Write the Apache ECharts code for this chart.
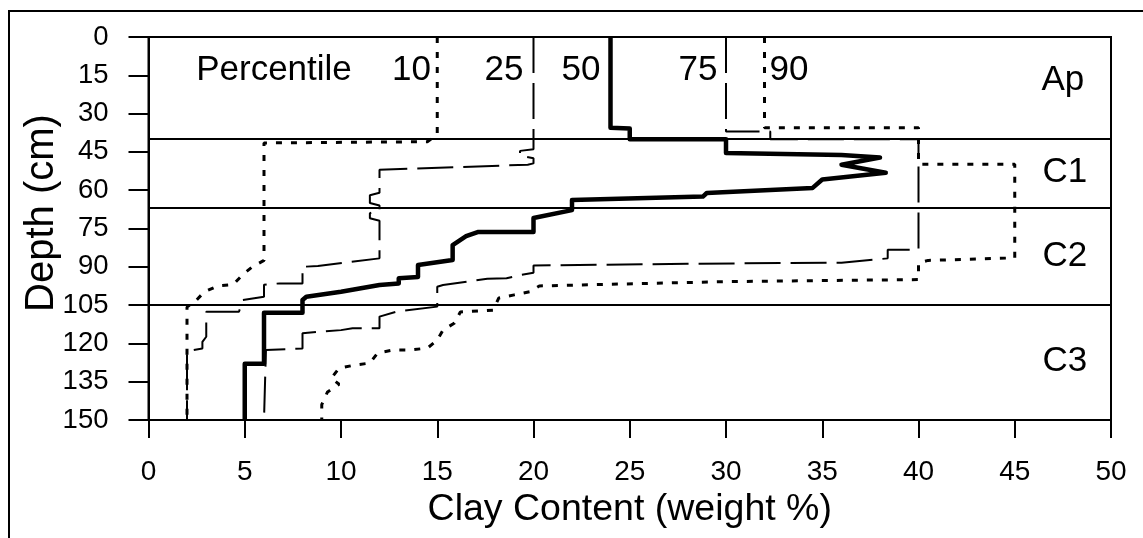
<!DOCTYPE html>
<html>
<head>
<meta charset="utf-8">
<script src="https://cdn.jsdelivr.net/npm/echarts@6/dist/echarts.min.js"></script>
<style>
html,body{margin:0;padding:0;background:#fff;}
#chart{width:1143px;height:538px;}
</style>
</head>
<body>
<div id="chart"></div>
<script>
// ---- data: [clay %, depth cm] ----
const p10 = [[15,0],[15,38],[14.5,41],[6,41.5],[6,87.5],[5.4,90],[4.9,93],[4.4,97],[3.6,97.5],[2.9,99.8],[2.5,103],[2,105.8],[2,150]];
const p25 = [[20,0],[20,44],[19.3,44.6],[19.3,46.5],[20,47.5],[20,49.5],[19.7,50],[12,52],[12,61],[11.5,62],[11.5,65],[12,66],[12,68],[11.5,69],[11.5,71],[12,72],[12,86.7],[8.8,89.7],[8,90],[8,96.5],[6.8,96.5],[6,97],[6,101.7],[4.9,103],[4.7,107.6],[3,107.6],[3,117.4],[2.8,119.4],[2.8,122],[2,123],[2,150]];
const p50 = [[24,0],[24,35.5],[25,35.8],[25,40],[30,40],[30,45.4],[36,46.2],[38,47.2],[36,50],[38.3,53.2],[35,55.8],[34.5,59.1],[29,61.1],[28.8,62.5],[22,63.8],[22,67.8],[20,70.9],[20,76.4],[17.1,76.4],[16.5,78],[15.8,81.5],[15.8,87.3],[14,89.3],[14,94],[13,94.5],[13,96.5],[12,97.1],[10,99.8],[8.2,101.7],[8,103],[8,108],[6,108],[6,128],[5,128],[5,150]];
const p75 = [[30,0],[30,37],[32.3,37],[32.3,40],[40,40],[40,83.3],[38.4,83.3],[38.4,86.7],[36,88.4],[28,88.8],[20,89.5],[20,92.3],[19.3,93.2],[18.6,94.5],[17.6,94.7],[15.3,97.1],[15,97.8],[15,105.6],[12.9,107.5],[12,109.5],[12,114.1],[10.6,114.1],[10,114.8],[8,116],[8,122],[6.1,122.6],[6,150]];
const p90 = [[32,0],[32,35.5],[40,35.5],[40,49.8],[45,49.8],[45,86.5],[40.5,87.5],[40,88.5],[40,95],[30,95.8],[20.3,97.5],[19.8,99.8],[19,101],[18.2,102.2],[17.9,107],[16.2,107.7],[15.9,112],[15.3,114.8],[15,118.7],[14.5,121.8],[13.6,122.6],[12.7,122.6],[11.9,123.8],[11.5,127.7],[10.7,128.5],[9.9,129.7],[9.5,133.6],[9.9,136],[9.3,139],[9,144],[9,150]];

const horizonDepths = [40, 67, 105];
const horizonNames = ['Ap','C1','C2','C3'];
const horizonLabelX = [47.5, 47.6, 47.6, 47.6];
const horizonLabelY = [17, 53, 86, 127];

const pctLabels = ['Percentile','10','25','50','75','90'];
const pctLabelX = [6.52, 13.66, 18.47, 22.47, 28.55, 33.27];
const pctLabelY = [13, 13, 13, 13, 13, 13];

const xTickInterval = 5;
const yTickInterval = 15;

const FONT = '"Liberation Sans", Arial, sans-serif';

const chart = echarts.init(document.getElementById('chart'), null, {renderer:'canvas'});

const dotted = {color:'#000', width:3, type:[6,9], cap:'butt'};
const dashed = {color:'#000', width:2, type:[36,10], cap:'butt'};

function lineSeries(name, data, style, z){
  return {name, type:'line', data, showSymbol:false, symbol:'none', lineStyle:style, z, silent:true, animation:false};
}

const textData = pctLabels.map((t,i)=>({value:[pctLabelX[i], pctLabelY[i]], name:t}))
  .concat(horizonNames.map((t,i)=>({value:[horizonLabelX[i], horizonLabelY[i]], name:t})));

chart.setOption({
  backgroundColor:'#fff',
  animation:false,
  grid:{left:148.5, right:32, top:37, bottom:118, show:true, borderColor:'#000', borderWidth:2, backgroundColor:'transparent'},
  xAxis:{
    type:'value', min:0, max:50, interval:xTickInterval,
    axisLine:{show:true, onZero:false, lineStyle:{color:'#000', width:2}},
    axisTick:{show:true, inside:false, length:18, lineStyle:{color:'#000', width:2}},
    axisLabel:{color:'#000', fontSize:28, fontFamily:FONT, margin:38},
    splitLine:{show:false},
    name:'Clay Content (weight %)', nameLocation:'middle', nameGap:70,
    nameTextStyle:{color:'#000', fontSize:37.5, fontFamily:FONT}
  },
  yAxis:{
    type:'value', min:0, max:150, interval:yTickInterval, inverse:true,
    axisLine:{show:true, onZero:false, lineStyle:{color:'#000', width:2}},
    axisTick:{show:true, inside:false, length:20, lineStyle:{color:'#000', width:2}},
    axisLabel:{color:'#000', fontSize:27.5, fontFamily:FONT, margin:40},
    splitLine:{show:false}
  },
  graphic:[
    {type:'rect', shape:{x:9, y:11, width:1300, height:700}, style:{fill:'none', stroke:'#000', lineWidth:2}, z:-1, silent:true},
    {type:'text', x:42, y:213, rotation:Math.PI/2, style:{text:'Depth (cm)', font:'40px "Liberation Sans", Arial, sans-serif', fill:'#000', textAlign:'center', textVerticalAlign:'middle'}, silent:true}
  ],
  series:[
    lineSeries('p10', p10, dotted, 3),
    lineSeries('p90', p90, dotted, 3),
    lineSeries('p25', p25, dashed, 4),
    lineSeries('p75', p75, dashed, 4),
    lineSeries('p50', p50, {color:'#000', width:4.5, type:'solid', join:'round'}, 6),
    {
      name:'labels', type:'scatter', data:textData, symbolSize:0,
      itemStyle:{color:'#000', opacity:1}, silent:true, z:8,
      label:{show:true, position:'inside', formatter:p=>p.name, color:'#000', opacity:1, fontSize:35, fontFamily:FONT, textBorderWidth:0},
      markLine:{
        silent:true, symbol:['none','none'], label:{show:false},
        lineStyle:{color:'#000', width:2, type:'solid'},
        data: horizonDepths.map(d=>({yAxis:d}))
      }
    }
  ]
});
</script>
</body>
</html>
